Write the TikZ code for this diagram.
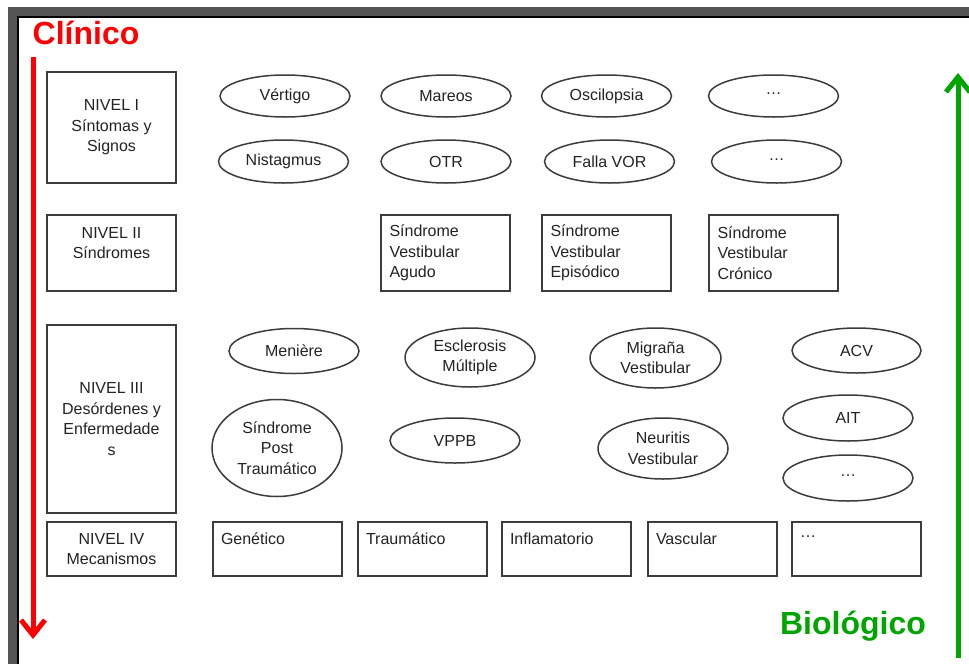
\documentclass[tikz,border=0pt]{standalone}
\usepackage{fontspec}
\setmainfont{Liberation Sans}
\usetikzlibrary{shapes.geometric,arrows.meta}
\definecolor{frameg}{RGB}{85,85,85}
\definecolor{lineg}{RGB}{60,60,60}
\definecolor{txtc}{RGB}{35,35,35}
\definecolor{myred}{RGB}{255,0,0}
\definecolor{mygreen}{RGB}{0,165,0}
\begin{document}
\begin{tikzpicture}[x=1pt,y=-1pt,
  every node/.style={font=\fontsize{16}{20.5}\selectfont, text=txtc},
  lvbox/.style={draw=lineg, line width=1.5pt, rectangle, minimum width=129pt, align=center, inner sep=0pt},
  sbox/.style={draw=lineg, line width=1.5pt, rectangle, minimum width=129pt, minimum height=76pt, text width=112pt, align=left, inner xsep=8.5pt, inner ysep=0pt},
  mbox/.style={draw=lineg, line width=1.5pt, rectangle, minimum width=129pt, minimum height=54pt, text width=113pt, align=left, inner xsep=8pt, inner ysep=0pt},
  ell/.style={draw=lineg, line width=1.5pt, ellipse, inner sep=0pt, align=center, minimum width=130pt},
  big/.style={font=\fontsize{32}{36}\selectfont\bfseries},
  axisarrow/.style={line width=5pt, -{Straight Barb[length=15pt,width=24pt]}}
]
\useasboundingbox (0,0) rectangle (969,664);
\fill[white] (0,0) rectangle (969,664);
% frame
\fill[frameg] (8,7) rectangle (969,16);
\fill[frameg] (8,7) rectangle (17,664);
\draw[black, line width=1.5pt] (17.75,664) -- (17.75,16.75) -- (969,16.75);

% titles
\node[big, text=myred] (clin) at (86,33) {Clínico};
\node[big, text=mygreen] (bio) at (853,626) {Biológico};

% arrows
\coordinate (rs) at (33,57);
\coordinate (re) at (33,639);
\draw[myred, axisarrow] (rs) -- (re);
\coordinate (gs) at (958,658);
\coordinate (ge) at (958,73);
\draw[mygreen, axisarrow] (gs) -- (ge);

% level boxes
\node[lvbox, minimum height=111pt] (n1) at (111.5,127.5) {NIVEL I\\Síntomas y\\Signos};
\node[lvbox, minimum height=76pt] (n2) at (111.5,253) {NIVEL II\\Síndromes\\\mbox{}};
\node[lvbox, minimum height=188pt] (n3) at (111.5,419) {NIVEL III\\Desórdenes y\\Enfermedade\\s};
\node[lvbox, minimum height=54pt] (n4) at (111.5,549) {NIVEL IV\\Mecanismos};

% level I ellipses
\node[ell, minimum height=42pt] (vert) at (285,96) {Vértigo};
\node[ell, minimum height=42pt] (mar) at (446,96) {Mareos};
\node[ell, minimum height=42pt] (osc) at (606.5,96) {Oscilopsia};
\node[ell, minimum height=42pt] (d1) at (773.5,96) {\raisebox{4pt}{…}};
\node[ell, minimum height=43pt] (nis) at (283.5,161.5) {Nistagmus};
\node[ell, minimum height=43pt] (otr) at (446,161.5) {OTR};
\node[ell, minimum height=43pt] (vor) at (609.5,161.5) {Falla VOR};
\node[ell, minimum height=43pt] (d2) at (776.5,161.5) {\raisebox{4pt}{…}};

% level II boxes
\node[sbox] (sva) at (445.5,253) {Síndrome\\Vestibular\\Agudo};
\node[sbox] (sve) at (606.5,253) {Síndrome\\Vestibular\\Episódico};
\node[sbox] (svc) at (773.5,253) {Síndrome\\Vestibular\\Crónico};

% level III ellipses
\node[ell, minimum height=45pt] (men) at (294,351) {Menière};
\node[ell, minimum height=59pt] (esc) at (470,357.5) {Esclerosis\\Múltiple};
\node[ell, minimum height=60pt, minimum width=131pt] (mig) at (655.5,358) {Migraña\\Vestibular};
\node[ell, minimum height=45pt, minimum width=129pt] (acv) at (856.5,350.5) {ACV};
\node[ell, minimum height=97pt] (spt) at (277,448) {Síndrome\\Post\\Traumático};
\node[ell, minimum height=45pt] (vppb) at (455,440.5) {VPPB};
\node[ell, minimum height=61pt] (neu) at (663,448.5) {Neuritis\\Vestibular};
\node[ell, minimum height=46pt] (ait) at (848,418) {AIT};
\node[ell, minimum height=46pt] (d3) at (848,478) {\raisebox{4pt}{…}};

% level IV boxes
\node[mbox] (gen) at (277.5,549) {Genético\\\mbox{}};
\node[mbox] (tra) at (422.5,549) {Traumático\\\mbox{}};
\node[mbox] (inf) at (566.5,549) {Inflamatorio\\\mbox{}};
\node[mbox] (vas) at (712.5,549) {Vascular\\\mbox{}};
\node[mbox] (d4) at (856.5,549) {\raisebox{4pt}{…}\\\mbox{}};
\end{tikzpicture}
\end{document}
